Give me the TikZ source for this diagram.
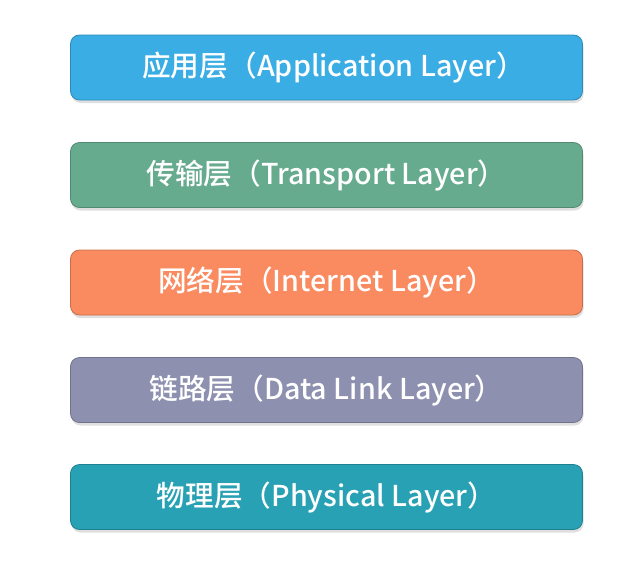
\documentclass[tikz,border=0pt]{standalone}
\usepackage{fontspec}
\setmainfont{Noto Sans CJK SC}
\newfontfamily\medfont{Noto Sans CJK SC Medium}
\usetikzlibrary{shadows}
\definecolor{cA}{HTML}{3AADE4}
\definecolor{cB}{HTML}{67AB8F}
\definecolor{cC}{HTML}{FA8A5F}
\definecolor{cD}{HTML}{8E90B0}
\definecolor{cE}{HTML}{27A1B3}
\tikzset{
  layerbox/.style={draw=#1!80!black, fill=#1, line width=0.8pt, rounded corners=9pt,
    minimum width=512pt, minimum height=65pt, inner sep=0pt,
    text=white, font=\medfont\fontsize{28.7}{34}\selectfont,
    drop shadow={opacity=0.25, shadow xshift=1pt, shadow yshift=-3pt}}
}
\begin{document}
\begin{tikzpicture}[x=1pt,y=-1pt]
\useasboundingbox (0,0) rectangle (644,570);
\node[layerbox=cA] (app) at (326.5,67.5) {\hspace*{14pt}应用层（Application Layer）};
\node[layerbox=cB] (tra) at (326.5,175) {传输层（Transport Layer）};
\node[layerbox=cC] (net) at (326.5,282.5) {网络层（Internet Layer）};
\node[layerbox=cD] (dl) at (326.5,390) {链路层（Data Link Layer）};
\node[layerbox=cE] (phy) at (326.5,497) {物理层（Physical Layer）};
\end{tikzpicture}
\end{document}
